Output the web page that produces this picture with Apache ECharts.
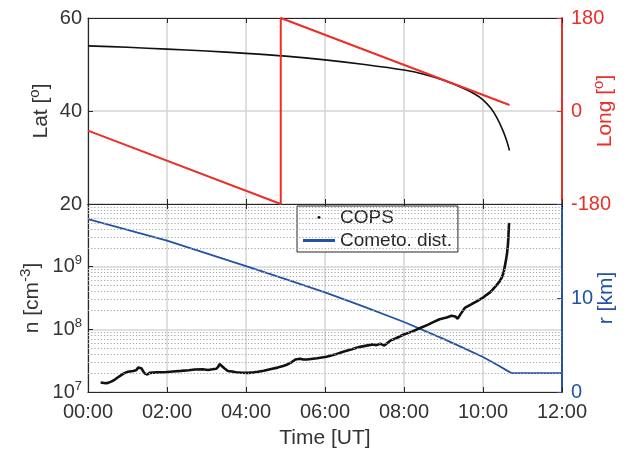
<!DOCTYPE html>
<html><head><meta charset="utf-8">
<script src="https://cdn.jsdelivr.net/npm/echarts/dist/echarts.min.js"></script>
<style>html,body{margin:0;padding:0;background:#fff}#c{width:634px;height:453px}</style>
</head><body><div id="c"></div>
<script>
// ---- data (time in hours UT) ----
const xTicks = [0, 2, 4, 6, 8, 10, 12];
const latTime = [0, 1, 2, 3, 4, 5, 6, 7, 8, 8.5, 9, 9.5, 9.8, 10, 10.2, 10.35, 10.5, 10.6, 10.67];
const latDeg  = [54.0, 53.7, 53.3, 52.9, 52.4, 51.8, 51.0, 50.0, 48.8, 47.9, 46.6, 44.9, 43.6, 42.4, 40.6, 38.6, 35.9, 33.6, 31.5];
const longTime = [0, 4.88, 4.88, 10.67];
const longDeg  = [-38, -180, 180, 11.6];
const copsTime = [0.32, 0.45, 0.51, 0.6, 0.68, 0.76, 0.84, 0.92, 1.01, 1.14, 1.22, 1.27, 1.31, 1.35, 1.43, 1.5, 1.56, 1.6, 1.75, 1.94, 2.15, 2.36, 2.55, 2.7, 2.9, 3.04, 3.15, 3.25, 3.3, 3.33, 3.37, 3.45, 3.54, 3.65, 3.75, 3.9, 4.05, 4.2, 4.3, 4.45, 4.61, 4.8, 4.94, 5.05, 5.16, 5.25, 5.3, 5.37, 5.45, 5.54, 5.8, 6.04, 6.25, 6.46, 6.7, 6.89, 7.05, 7.22, 7.3, 7.4, 7.5, 7.65, 7.8, 7.98, 8.2, 8.41, 8.6, 8.74, 8.9, 9.08, 9.2, 9.3, 9.36, 9.42, 9.54, 9.7, 9.84, 10.0, 10.09, 10.2, 10.3, 10.4, 10.47, 10.52, 10.55, 10.58, 10.61, 10.63, 10.64, 10.65, 10.66];
const copsN = [1.42e7, 1.38e7, 1.40e7, 1.48e7, 1.58e7, 1.72e7, 1.86e7, 2.0e7, 2.1e7, 2.17e7, 2.22e7, 2.45e7, 2.35e7, 2.4e7, 1.98e7, 1.9e7, 2.02e7, 2.05e7, 2.06e7, 2.07e7, 2.12e7, 2.17e7, 2.22e7, 2.28e7, 2.3e7, 2.25e7, 2.3e7, 2.35e7, 2.55e7, 2.8e7, 2.65e7, 2.4e7, 2.17e7, 2.12e7, 2.07e7, 2.03e7, 2.02e7, 2.06e7, 2.1e7, 2.18e7, 2.3e7, 2.45e7, 2.6e7, 2.75e7, 3.0e7, 3.3e7, 3.1e7, 3.4e7, 3.3e7, 3.3e7, 3.45e7, 3.65e7, 3.95e7, 4.4e7, 4.85e7, 5.25e7, 5.5e7, 5.75e7, 5.6e7, 5.9e7, 5.5e7, 6.6e7, 7.2e7, 8.2e7, 9.2e7, 1.05e8, 1.18e8, 1.3e8, 1.45e8, 1.55e8, 1.65e8, 1.6e8, 1.48e8, 1.7e8, 2.2e8, 2.5e8, 2.8e8, 3.2e8, 3.55e8, 4.0e8, 4.7e8, 5.6e8, 6.6e8, 8.0e8, 1.0e9, 1.25e9, 1.65e9, 2.2e9, 2.75e9, 3.8e9, 5.0e9];
const distTime = [0, 1, 2, 3, 4, 5, 6, 7, 8, 9, 9.5, 10, 10.4, 10.6, 10.73, 12];
const distKm   = [18.4, 17.25, 16.1, 14.75, 13.4, 12.0, 10.6, 9.05, 7.45, 5.65, 4.7, 3.72, 2.8, 2.3, 2.0, 2.0];
const latTicks = [20, 40, 60];
const longTicks = [-180, 0, 180];
const rTicks = [0, 10];
const minorGridN = [2e7,3e7,4e7,5e7,6e7,7e7,8e7,9e7,2e8,3e8,4e8,5e8,6e8,7e8,8e8,9e8,2e9,3e9,4e9,5e9,6e9,7e9,8e9,9e9];

// ---- styles ----
const AX = '#262626', TXT = '#333333', RED = '#ea2e28', BLUE = '#2352a6', GRID = '#d4d4d4';
const FONT = 'Liberation Sans';
const zip = (a, b) => a.map((v, i) => [v, b[i]]);
const sup = {b: {fontSize: 20, fontFamily: FONT}, s: {fontSize: 13, fontFamily: FONT, padding: [0, 0, 12, 0]}};
const supName = (c) => ({b: {fontSize: 21, fontFamily: FONT, color: c}, s: {fontSize: 15, fontFamily: FONT, color: c, padding: [0, 0, 13, 0]}});
const hh = v => (v < 10 ? '0' : '') + v + ':00';

const chart = echarts.init(document.getElementById('c'), null, {renderer: 'canvas'});
const tick = (c) => ({show: true, inside: true, length: 5, lineStyle: {color: c, width: 1}});
const line = (c) => ({show: true, onZero: false, lineStyle: {color: c, width: 1.2}});

chart.setOption({
  animation: false,
  backgroundColor: '#ffffff',
  textStyle: {fontFamily: FONT},
  grid: [
    {left: 88, right: 72, top: 18, height: 186, containLabel: false, outerBoundsMode: 'none'},
    {left: 88, right: 72, top: 204, height: 188, containLabel: false, outerBoundsMode: 'none'}
  ],
  legend: {
    data: [{name: 'COPS', icon: 'circle'}, {name: 'Cometo. dist.', icon: 'rect'}],
    orient: 'vertical', left: 297, top: 206,
    itemWidth: 32, itemHeight: 3, itemGap: 4,
    padding: [2, 6, 2, 6],
    backgroundColor: '#ffffff', borderColor: AX, borderWidth: 1,
    textStyle: {fontSize: 19, color: AX, fontFamily: FONT, lineHeight: 19}
  },
  xAxis: [
    {gridIndex: 0, type: 'value', min: 0, max: 12, interval: 2, position: 'bottom',
     axisLine: line(AX), axisTick: tick(AX), axisLabel: {show: false},
     splitLine: {show: true, lineStyle: {color: GRID, width: 1.5}}},
    {gridIndex: 0, type: 'value', min: 0, max: 12, interval: 2, position: 'top',
     axisLine: line(AX), axisTick: tick(AX), axisLabel: {show: false}, splitLine: {show: false}},
    {gridIndex: 1, type: 'value', min: 0, max: 12, interval: 2, position: 'bottom',
     axisLine: line(AX), axisTick: tick(AX),
     axisLabel: {show: true, fontSize: 20, color: TXT, margin: 10, fontFamily: FONT, formatter: v => hh(v)},
     splitLine: {show: true, lineStyle: {color: GRID, width: 1.5}},
     name: 'Time [UT]', nameLocation: 'middle', nameGap: 36, nameMoveOverlap: false,
     nameTextStyle: {fontSize: 21, color: TXT, fontFamily: FONT}},
    {gridIndex: 1, type: 'value', min: 0, max: 12, interval: 2, position: 'top',
     axisLine: line(AX), axisTick: tick(AX), axisLabel: {show: false}, splitLine: {show: false}}
  ],
  yAxis: [
    {gridIndex: 0, type: 'value', min: 20, max: 60, interval: 20, position: 'left',
     axisLine: line(AX), axisTick: tick(AX),
     axisLabel: {fontSize: 20, color: TXT, margin: 6, fontFamily: FONT},
     splitLine: {show: true, lineStyle: {color: GRID, width: 1.5}},
     name: '{b|Lat [}{s|o}{b|]}', nameLocation: 'middle', nameGap: 33, nameRotate: 90, nameMoveOverlap: false,
     nameTextStyle: {rich: supName(TXT)}},
    {gridIndex: 0, type: 'value', min: -180, max: 180, interval: 180, position: 'right',
     axisLine: {show: true, onZero: false, lineStyle: {color: RED, width: 2}}, axisTick: tick(RED),
     axisLabel: {fontSize: 20, color: RED, margin: 9, fontFamily: FONT},
     splitLine: {show: false},
     name: '{b|Long [}{s|o}{b|]}', nameLocation: 'middle', nameGap: 29, nameRotate: 90, nameMoveOverlap: false,
     nameTextStyle: {rich: supName(RED)}},
    {gridIndex: 1, type: 'log', logBase: 10, min: 1e7, max: 1e10, position: 'left',
     axisLine: line(AX), axisTick: tick(AX),
     axisLabel: {fontSize: 20, color: TXT, margin: 6, fontFamily: FONT, rich: sup,
       formatter: v => { const e = Math.round(Math.log10(v)); return e >= 10 ? '' : '{b|10}{s|' + e + '}'; }},
     splitLine: {show: true, lineStyle: {color: GRID, width: 1.5}},
     name: '{b|n [cm}{s|-3}{b|]}', nameLocation: 'middle', nameGap: 42, nameRotate: 90, nameMoveOverlap: false,
     nameTextStyle: {rich: supName(TXT)}},
    {gridIndex: 1, type: 'value', min: 0, max: 20, interval: 10, position: 'right',
     axisLine: {show: true, onZero: false, lineStyle: {color: BLUE, width: 2}}, axisTick: tick(BLUE),
     axisLabel: {fontSize: 20, color: BLUE, margin: 9, fontFamily: FONT, formatter: v => rTicks.includes(v) ? String(v) : ''},
     splitLine: {show: false},
     name: 'r [km]', nameLocation: 'middle', nameGap: 34, nameRotate: 90, nameMoveOverlap: false,
     nameTextStyle: {fontSize: 21, color: BLUE, fontFamily: FONT}}
  ],
  series: [
    {name: 'grid-minor', type: 'line', xAxisIndex: 2, yAxisIndex: 2, data: [], silent: true, z: 1,
     markLine: {silent: true, symbol: 'none', label: {show: false},
       lineStyle: {color: '#a6a6a6', type: [1.2, 2], width: 1},
       data: minorGridN.map(v => ({yAxis: v}))}},
    {name: 'Lat', type: 'line', xAxisIndex: 0, yAxisIndex: 0, data: zip(latTime, latDeg),
     symbol: 'none', smooth: 0.3, lineStyle: {color: '#111111', width: 1.6}, z: 3},
    {name: 'Long', type: 'line', xAxisIndex: 0, yAxisIndex: 1, data: zip(longTime, longDeg),
     symbol: 'none', lineStyle: {color: RED, width: 2}, z: 4},
    {name: 'Cometo. dist.', type: 'line', xAxisIndex: 2, yAxisIndex: 3, data: zip(distTime, distKm),
     symbol: 'none', color: BLUE, lineStyle: {color: BLUE, width: 1.8}, z: 3},
    {name: 'COPS', type: 'line', xAxisIndex: 2, yAxisIndex: 2, data: zip(copsTime, copsN),
     symbol: 'none', color: '#000000', lineStyle: {color: '#111111', width: 2.6}, z: 4}
  ]
});
</script></body></html>
